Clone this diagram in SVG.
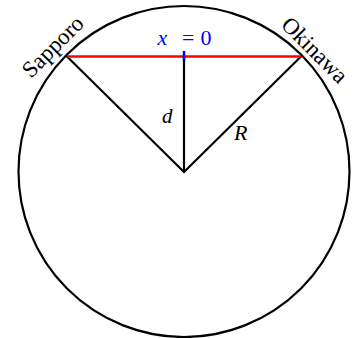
<svg xmlns="http://www.w3.org/2000/svg" width="354" height="338" viewBox="0 0 354 338">
<style>
.ln{stroke:#000;stroke-width:2.2;fill:none;stroke-linecap:round}
.lbl{font-family:"Liberation Serif","DejaVu Serif",serif;font-size:23px;fill:#000}
.m{font-family:"Liberation Serif","DejaVu Serif",serif;font-size:22px;font-style:italic;fill:#000}
.b{fill:#00f}
.up{font-style:normal}
</style>
<rect width="354" height="338" fill="#fff"/>
<g id="circle"><circle cx="184" cy="171.5" r="165.5" class="ln"/></g>
<g id="connectors">
<line x1="184" y1="172" x2="67" y2="56.5" class="ln"/>
<line x1="184" y1="172" x2="301" y2="56.5" class="ln"/>
<line x1="184" y1="172" x2="184" y2="57" class="ln"/>
<line x1="67" y1="56.5" x2="301" y2="56.5" stroke="#f00" stroke-width="2.4"/>
<line x1="184" y1="51" x2="184" y2="60.5" stroke="#00f" stroke-width="2.6"/>
</g>
<g id="sapporo"><text class="lbl" transform="translate(31,79) rotate(-45)">Sapporo</text></g>
<g id="okinawa"><text class="lbl" transform="translate(280,26) rotate(45)">Okinawa</text></g>
<g id="x0"><text x="157.5" y="45" class="m b">x</text><text x="182" y="45" class="m b up">=</text><text x="200.5" y="45" class="m b up">0</text></g>
<g id="d"><text x="162" y="123" class="m" style="font-size:21px">d</text></g>
<g id="R"><text x="234" y="140" class="m">R</text></g>
</svg>
